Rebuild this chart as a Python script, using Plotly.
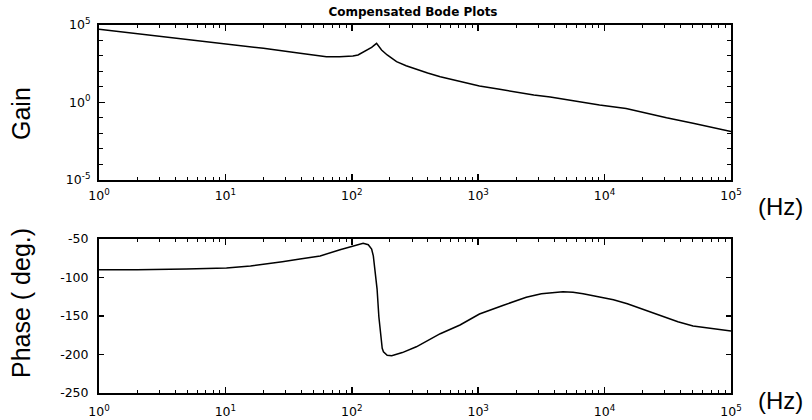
import plotly.graph_objects as go

# ---- data ----
gain_freq = [1, 3.16, 10, 20, 39, 63, 80, 102, 112, 126, 143.5, 157, 172, 190.5, 226,
             269, 324, 398, 501, 718, 1023, 1479, 1995, 2754, 3715, 5623, 9120, 14791,
             19953, 30903, 50119, 100000]
gain_vals = [48978, 17378, 6166, 2951, 1413, 851, 832, 933, 1096, 1778, 3388, 6166,
             2291, 1096, 407, 224, 132, 75.9, 43.7, 22.9, 11.2, 6.76, 4.47, 2.95, 2.14,
             1.26, 0.66, 0.40, 0.224, 0.1, 0.0447, 0.0129]

phase_freq = [1, 2, 4.9, 10.2, 15.8, 21.4, 28.2, 38.9, 56.2, 80.7, 100, 116, 123, 135,
              143.5, 148, 151, 155, 158.5, 163.7, 170, 174, 178, 190.5, 207, 251, 324,
              501, 718, 1023, 1585, 2400, 3162, 3890, 4680, 5623, 6760, 9120, 11750,
              15136, 19050, 28840, 38019, 50100, 70795, 100000]
phase_vals = [-90, -90, -89, -87.7, -85, -82.6, -79.5, -76, -72, -64, -59.5, -56.5,
              -55.7, -57.5, -63, -72, -85, -100, -115, -151, -183, -192, -196.5, -200.9,
              -201.7, -197.5, -190, -173, -161.7, -147.4, -136, -125.7, -121, -119.3,
              -118.6, -119.3, -121, -125.3, -129, -134, -140, -151, -157.5, -163,
              -166.5, -169.6]

x_ticks = [1, 10, 100, 1000, 10000, 100000]
x_ticktext = ["10<sup>0</sup>", "10<sup>1</sup>", "10<sup>2</sup>",
              "10<sup>3</sup>", "10<sup>4</sup>", "10<sup>5</sup>"]
x_minor = [m * d for d in [1, 10, 100, 1000, 10000] for m in range(2, 10)]

gain_ticks = [1e-5, 1, 1e5]
gain_ticktext = ["10<sup>-5</sup>", "10<sup>0</sup>", "10<sup>5</sup>"]
gain_minor = [1e-4, 1e-3, 1e-2, 1e-1, 1e1, 1e2, 1e3, 1e4]

phase_ticks = [-250, -200, -150, -100, -50]
phase_ticktext = ["-250", "-200", "-150", "-100", "-50"]

title_text = "Compensated Bode Plots"

W, H = 812, 420
L, R = 99, 731
TOP1, BOT1 = 24.5, 180
TOP2, BOT2 = 239, 393

tickfont = dict(family="DejaVu Sans", size=12.5, color="black")

fig = go.Figure()
fig.add_trace(go.Scatter(x=gain_freq, y=gain_vals, mode="lines",
                         line=dict(color="black", width=1.5), xaxis="x", yaxis="y"))
fig.add_trace(go.Scatter(x=phase_freq, y=phase_vals, mode="lines",
                         line=dict(color="black", width=1.5), xaxis="x2", yaxis="y2"))

common_x = dict(type="log", range=[0, 5], tickvals=x_ticks, ticktext=x_ticktext,
                ticks="inside", ticklen=6, tickwidth=1.5, tickcolor="black",
                minor=dict(tickvals=x_minor, ticks="inside", ticklen=3, tickwidth=1,
                           tickcolor="black", showgrid=False),
                showline=True, linecolor="black", linewidth=2, mirror="allticks",
                showgrid=False, zeroline=False, tickfont=tickfont, automargin=False,
                ticklabelstandoff=3,
                domain=[L / W, R / W], fixedrange=True)

fig.update_layout(
    template="none",
    width=W, height=H,
    margin=dict(l=0, r=0, t=0, b=0, pad=0, autoexpand=False),
    paper_bgcolor="white", plot_bgcolor="white",
    showlegend=False,
    xaxis=dict(common_x, anchor="y"),
    xaxis2=dict(common_x, anchor="y2", ticklabelstandoff=6),
    yaxis=dict(type="log", range=[-5, 5], tickvals=gain_ticks, ticktext=gain_ticktext,
               ticks="inside", ticklen=6, tickwidth=1.5, tickcolor="black",
               minor=dict(tickvals=gain_minor, ticks="inside", ticklen=4, tickwidth=1,
                          tickcolor="black", showgrid=False),
               showline=True, linecolor="black", linewidth=2, mirror="allticks",
               showgrid=False, zeroline=False, tickfont=tickfont, automargin=False,
               ticklabelstandoff=4, fixedrange=True,
               domain=[1 - BOT1 / H, 1 - TOP1 / H], anchor="x"),
    yaxis2=dict(range=[-250, -50], tickvals=phase_ticks, ticktext=phase_ticktext,
                ticks="inside", ticklen=5, tickwidth=1.5, tickcolor="black",
                showline=True, linecolor="black", linewidth=2, mirror="allticks",
                showgrid=False, zeroline=False, tickfont=tickfont, automargin=False,
                ticklabelstandoff=6, fixedrange=True,
                domain=[1 - BOT2 / H, 1 - TOP2 / H], anchor="x2"),
    title=dict(text=title_text, x=413 / W, y=1 - 12 / H, xanchor="center",
               yanchor="middle", automargin=False,
               font=dict(family="DejaVu Sans", size=12, color="black", weight="bold")),
)

big = dict(family="Liberation Sans", size=25, color="black")
fig.add_annotation(text="Gain", x=21 / W, y=1 - 114 / H, xref="paper", yref="paper",
                   textangle=-90, showarrow=False, font=big,
                   xanchor="center", yanchor="middle")
fig.add_annotation(text="Phase ( deg.)", x=21 / W, y=1 - 303 / H, xref="paper",
                   yref="paper", textangle=-90, showarrow=False, font=big,
                   xanchor="center", yanchor="middle")
hz = dict(family="Liberation Sans", size=24, color="black")
fig.add_annotation(text="(Hz)", x=780 / W, y=1 - 206 / H, xref="paper", yref="paper",
                   showarrow=False, font=hz, xanchor="center", yanchor="middle")
fig.add_annotation(text="(Hz)", x=780 / W, y=1 - 400 / H, xref="paper", yref="paper",
                   showarrow=False, font=hz, xanchor="center", yanchor="middle")

fig.write_html(
    "out.html",
    config={"displayModeBar": False, "staticPlot": True},
    post_script="document.body.style.margin='0px';document.body.style.padding='0px';"
                "document.body.style.overflow='hidden';",
)
